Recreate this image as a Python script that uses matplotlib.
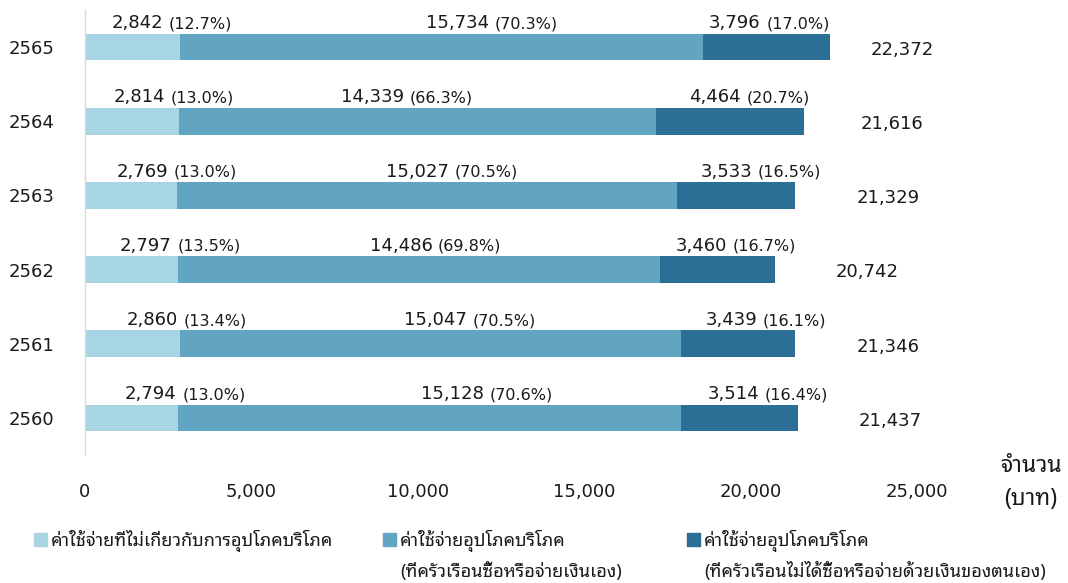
import numpy as np
import matplotlib
matplotlib.use("Agg")
import matplotlib.pyplot as plt
from matplotlib.patches import Rectangle

# data, bottom row first
years = ['2560', '2561', '2562', '2563', '2564', '2565']
non_consume = [2794, 2860, 2797, 2769, 2814, 2842]
non_consume_pct = [13.0, 13.4, 13.5, 13.0, 13.0, 12.7]
consume_paid = [15128, 15047, 14486, 15027, 14339, 15734]
consume_paid_pct = [70.6, 70.5, 69.8, 70.5, 66.3, 70.3]
consume_unpaid = [3514, 3439, 3460, 3533, 4464, 3796]
consume_unpaid_pct = [16.4, 16.1, 16.7, 16.5, 20.7, 17.0]
totals = [21437, 21346, 20742, 21329, 21616, 22372]

legend_labels = [['ค่าใช้จ่ายที่ไม่เกี่ยวกับการอุปโภคบริโภค'],
                 ['ค่าใช้จ่ายอุปโภคบริโภค', '(ที่ครัวเรือนซื้อหรือจ่ายเงินเอง)'],
                 ['ค่าใช้จ่ายอุปโภคบริโภค', '(ที่ครัวเรือนไม่ได้ซื้อหรือจ่ายด้วยเงินของตนเอง)']]
colors = ['#A8D5E3', '#62A5C3', '#2B6F97']

# where the value labels start (x, baht) -- placed by hand like the original
lab1_x = [1200, 1250, 1050, 950, 850, 800]
lab2_x = [10100, 9600, 8550, 9050, 7700, 10250]
lab3_x = [18700, 18650, 17750, 18500, 18150, 18750]
tot_x = [23250, 23200, 22550, 23200, 23300, 23600]

THAI = ['Noto Sans Thai Looped', 'DejaVu Sans']
plt.rcParams['font.family'] = ['DejaVu Sans', 'Noto Sans Thai Looped']

fig = plt.figure(figsize=(10.68, 5.83), dpi=100)
ax = fig.add_axes([85/1068, 1-455/583, 832/1068, 445/583])

y = np.arange(len(years))
h = 0.36
left = np.zeros(len(years))
for vals, c in zip([non_consume, consume_paid, consume_unpaid], colors):
    ax.barh(y, vals, left=left, height=h, color=c, edgecolor='none')
    left = left + np.array(vals)

def val_label(x, yy, v, p):
    t = ax.annotate('{:,}'.format(v), xy=(x, yy + h/2), xytext=(0, 4),
                    textcoords='offset points', ha='left', va='baseline',
                    fontsize=13, color='#1a1a1a')
    ax.annotate('({:.1f}%)'.format(p), xy=(1, 0), xycoords=t,
                xytext=(4, 0.5), textcoords='offset points',
                ha='left', va='bottom', fontsize=11.5, color='#1a1a1a')

for i in range(len(years)):
    val_label(lab1_x[i], y[i], non_consume[i], non_consume_pct[i])
    val_label(lab2_x[i], y[i], consume_paid[i], consume_paid_pct[i])
    val_label(lab3_x[i], y[i], consume_unpaid[i], consume_unpaid_pct[i])
    ax.annotate('{:,}'.format(totals[i]), xy=(tot_x[i], y[i]), xytext=(0, -2),
                textcoords='offset points', ha='left', va='center',
                fontsize=13, color='#1a1a1a', annotation_clip=False)

ax.set_xlim(0, 25000)
ax.set_ylim(-0.5, 5.5)
ax.set_xticks(np.arange(0, 25001, 5000))
ax.set_xticklabels(['{:,}'.format(v) for v in range(0, 25001, 5000)])
ax.set_yticks(y)
ax.set_yticklabels(years)
ax.tick_params(axis='x', length=0, pad=20, labelsize=13, labelcolor='#1a1a1a')
ax.tick_params(axis='y', length=0, pad=22, labelsize=13, labelcolor='#1a1a1a')
for s in ['top', 'right', 'bottom']:
    ax.spines[s].set_visible(False)
ax.spines['left'].set_color('#D9D9D9')
ax.spines['left'].set_linewidth(1)

fig.text(1031/1068, 1-466/583, 'จำนวน', family=THAI, fontsize=16.5,
         ha='center', va='center', color='#1a1a1a')
fig.text(1031/1068, 1-499/583, '(บาท)', family=THAI, fontsize=16.5,
         ha='center', va='center', color='#1a1a1a')

# legend drawn by hand
leg_x = [34, 383, 687]
for lx, lines, c in zip(leg_x, legend_labels, colors):
    fig.patches.append(Rectangle((lx/1068, 1-546/583), 13/1068, 13/583,
                                 transform=fig.transFigure, color=c))
    for k, line in enumerate(lines):
        fig.text((lx + 17)/1068, 1-(541 + 30*k)/583, line, family=THAI,
                 fontsize=13, ha='left', va='center', color='#1a1a1a')

fig.savefig('out.png', dpi=100)
